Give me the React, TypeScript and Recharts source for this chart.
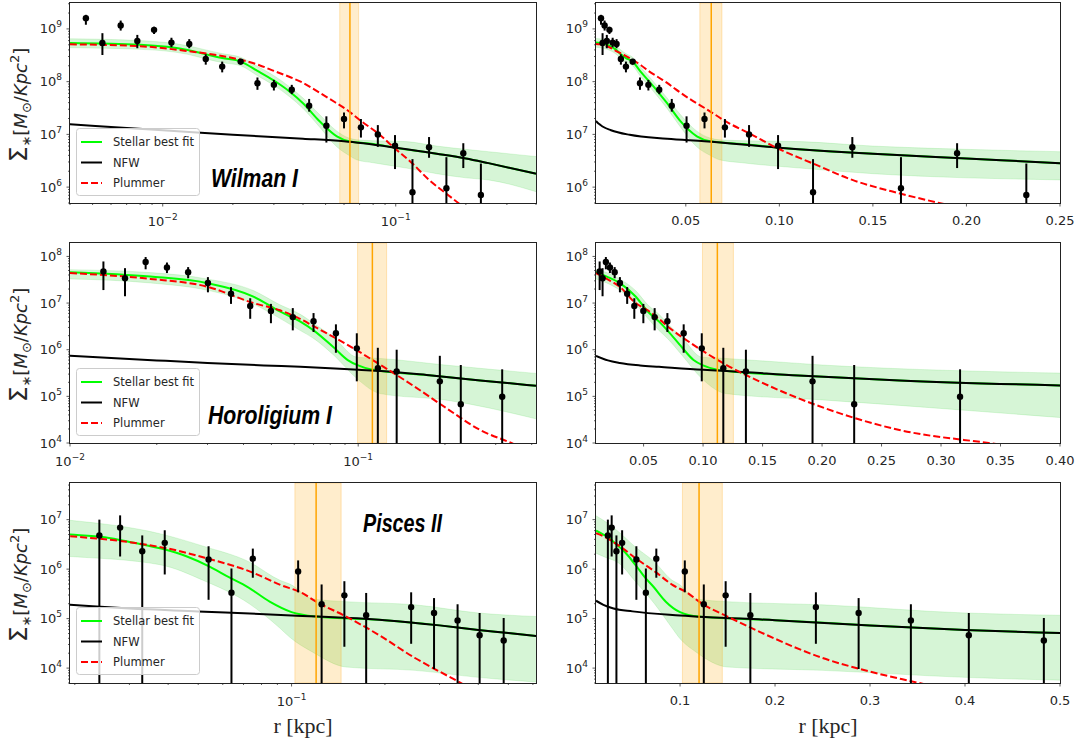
import React from 'react'
import {
  Area,
  ComposedChart,
  ErrorBar,
  Line,
  ReferenceArea,
  ReferenceLine,
  Scatter,
  XAxis,
  YAxis,
} from 'recharts'

// ---------- Wilman I ----------
// [r (kpc), value, error low end, error high end]; low end 0 = runs off the axis
const wilmanPoints = [
  [0.00468, 1.6e9, 1.2e9, 1.85e9],
  [0.00551, 5.4e8, 3.2e8, 8.3e8],
  [0.0066, 1.16e9, 9.3e8, 1.44e9],
  [0.00778, 5.9e8, 4.3e8, 7.7e8],
  [0.00918, 9.6e8, 8.0e8, 1.1e9],
  [0.0109, 5.5e8, 4.5e8, 6.8e8],
  [0.013, 5.2e8, 4.3e8, 6.4e8],
  [0.0153, 2.7e8, 2.1e8, 3.3e8],
  [0.018, 1.93e8, 1.5e8, 2.4e8],
  [0.0216, 2.4e8, 2.1e8, 2.7e8],
  [0.0255, 9.3e7, 7.0e7, 1.2e8],
  [0.03, 8.7e7, 6.8e7, 1.08e8],
  [0.0358, 7.0e7, 5.8e7, 8.7e7],
  [0.0425, 3.5e7, 2.7e7, 4.7e7],
  [0.0504, 1.46e7, 7.0e6, 2.2e7],
  [0.06, 1.96e7, 1.3e7, 2.6e7],
  [0.0709, 1.36e7, 8.7e6, 1.96e7],
  [0.0838, 1.0e7, 5.8e6, 1.5e7],
  [0.0993, 6.1e6, 2.2e6, 9.7e6],
  [0.118, 8.0e5, 0, 3.4e6],
  [0.139, 5.7e6, 3.6e6, 8.9e6],
  [0.165, 9.5e5, 0, 3.7e6],
  [0.195, 4.4e6, 2.3e6, 6.8e6],
  [0.232, 7.1e5, 0, 2.8e6],
]
const wilmanStellar = [
  [0.002, 5.5e8], [0.004, 5.4e8], [0.008, 5.0e8], [0.0128, 4.0e8], [0.0153, 3.3e8],
  [0.018, 2.8e8], [0.0216, 2.4e8], [0.0255, 1.6e8], [0.03, 1.05e8], [0.035, 6.5e7],
  [0.04, 3.9e7], [0.047, 1.8e7], [0.0559, 9.2e6], [0.063, 7.4e6], [0.08, 6.6e6],
  [0.1, 5.6e6], [0.15, 4.3e6], [0.2, 3.5e6], [0.25, 2.85e6], [0.4, 1.8e6],
]
const wilmanBand = [
  [0.002, 4.5e8, 6.6e8], [0.004, 4.4e8, 6.5e8], [0.008, 4.1e8, 6.0e8], [0.0128, 3.3e8, 4.8e8],
  [0.0153, 2.7e8, 4.0e8], [0.018, 2.3e8, 3.4e8], [0.0216, 2.0e8, 2.9e8], [0.0255, 1.3e8, 1.95e8],
  [0.03, 8.5e7, 1.3e8], [0.035, 5.2e7, 8.0e7], [0.04, 3.1e7, 4.9e7], [0.047, 1.4e7, 2.4e7],
  [0.0559, 5.8e6, 1.15e7], [0.063, 4.0e6, 8.5e6], [0.068, 3.3e6, 7.9e6], [0.08, 2.9e6, 7.6e6],
  [0.111, 2.3e6, 7.3e6], [0.15, 1.8e6, 6.0e6], [0.2, 1.5e6, 5.2e6], [0.25, 1.37e6, 4.7e6],
  [0.4, 8.2e5, 3.8e6],
]
const wilmanNfw = [
  [0.002, 1.8e7], [0.003, 1.65e7], [0.004, 1.55e7], [0.006, 1.38e7], [0.01, 1.2e7],
  [0.02, 9.8e6], [0.04, 8.3e6], [0.06, 7.4e6], [0.1, 5.6e6], [0.15, 4.3e6],
  [0.2, 3.5e6], [0.25, 2.85e6], [0.4, 1.8e6],
]
const wilmanPlummer = [
  [0.002, 5.2e8], [0.004, 5.1e8], [0.008, 4.7e8], [0.0128, 3.8e8], [0.017, 3.2e8],
  [0.0216, 2.6e8], [0.026, 2.05e8], [0.03, 1.6e8], [0.0355, 1.2e8], [0.04, 9.5e7],
  [0.0445, 7.2e7], [0.0525, 4.6e7], [0.0625, 2.8e7], [0.0709, 1.8e7], [0.0838, 1.05e7],
  [0.0993, 5.4e6], [0.118, 2.8e6], [0.139, 1.37e6], [0.165, 7.5e5], [0.195, 4.2e5],
  [0.25, 1.6e5], [0.4, 2.5e4],
]
const wilmanRh = [0.0575, 0.0636, 0.0693]

// ---------- Horoligium I ----------
const horoPoints = [
  [0.01306, 4.75e7, 1.9e7, 7.8e7],
  [0.01552, 3.4e7, 1.4e7, 5.6e7],
  [0.0183, 7.6e7, 5.3e7, 9.7e7],
  [0.0217, 5.8e7, 4.4e7, 7.4e7],
  [0.0257, 4.6e7, 3.4e7, 5.9e7],
  [0.0301, 2.7e7, 1.7e7, 3.6e7],
  [0.0362, 1.58e7, 9.6e6, 2.2e7],
  [0.0422, 8.7e6, 4.6e6, 1.27e7],
  [0.0498, 6.8e6, 3.7e6, 9.6e6],
  [0.0593, 5.0e6, 2.6e6, 7.8e6],
  [0.07, 4.1e6, 2.4e6, 6.1e6],
  [0.0837, 2.25e6, 8.6e5, 3.5e6],
  [0.0989, 1.07e6, 2.1e5, 2.25e6],
  [0.117, 4.0e5, 0, 1.1e6],
  [0.136, 3.4e5, 0, 1.0e6],
  [0.192, 2.1e5, 0, 7.4e5],
  [0.227, 6.8e4, 0, 4.7e5],
  [0.316, 9.8e4, 0, 3.8e5],
]
const horoStellar = [
  [0.01, 4.6e7], [0.019, 3.7e7], [0.0298, 2.7e7], [0.0433, 1.38e7], [0.0535, 6.6e6],
  [0.063, 4.0e6], [0.07, 2.6e6], [0.0825, 1.1e6], [0.092, 6.0e5], [0.1, 4.6e5],
  [0.11, 3.8e5], [0.12, 3.5e5], [0.18, 2.8e5], [0.265, 2.2e5], [0.414, 1.68e5],
]
const horoBand = [
  [0.01, 3.3e7, 5.2e7], [0.019, 2.7e7, 4.5e7], [0.0298, 1.9e7, 3.3e7], [0.0433, 9.5e6, 1.85e7],
  [0.0535, 4.7e6, 9.2e6], [0.0628, 2.6e6, 5.8e6], [0.07, 1.75e6, 3.7e6], [0.0825, 7.5e5, 1.8e6],
  [0.099, 2.4e5, 6.9e5], [0.119, 1.15e5, 6.5e5], [0.2, 8.4e4, 4.7e5], [0.414, 3.3e4, 3.1e5],
]
const horoNfw = [
  [0.01, 7.4e5], [0.02, 5.9e5], [0.03, 5.2e5], [0.047, 4.6e5], [0.063, 4.3e5],
  [0.1, 3.7e5], [0.12, 3.5e5], [0.18, 2.8e5], [0.265, 2.2e5], [0.414, 1.68e5],
]
const horoPlummer = [
  [0.01, 4.4e7], [0.019, 3.3e7], [0.0298, 2.26e7], [0.0433, 1.0e7], [0.0535, 7.0e6],
  [0.0628, 4.6e6], [0.07, 3.2e6], [0.0913, 1.3e6], [0.119, 4.8e5], [0.155, 1.7e5],
  [0.203, 5.5e4], [0.265, 1.9e4], [0.34, 1.0e4], [0.42, 5.5e3],
]
const horoRh = [0.0995, 0.112, 0.1255]

// ---------- Pisces II ----------
const piscesPoints = [
  [0.024, 4.8e6, 0, 1.0e7],
  [0.028, 6.9e6, 1.8e6, 1.22e7],
  [0.033, 2.3e6, 0, 4.8e6],
  [0.039, 3.4e6, 7.8e5, 6.1e6],
  [0.054, 1.56e6, 2.4e5, 2.9e6],
  [0.064, 3.35e5, 0, 1.03e6],
  [0.075, 1.63e6, 6.7e5, 2.6e6],
  [0.105, 9.0e5, 3.4e5, 1.5e6],
  [0.125, 1.95e5, 0, 4.9e5],
  [0.148, 2.95e5, 2.7e4, 5.7e5],
  [0.174, 1.17e5, 0, 3.3e5],
  [0.243, 1.71e5, 3.1e4, 3.4e5],
  [0.288, 1.3e5, 9.6e3, 2.6e5],
  [0.343, 9.2e4, 0, 1.95e5],
  [0.404, 4.6e4, 0, 1.3e5],
  [0.483, 3.6e4, 0, 1.03e5],
]
const piscesStellar = [
  [0.0115, 6.0e6], [0.0193, 5.0e6], [0.025, 4.4e6], [0.031, 3.4e6], [0.038, 2.6e6],
  [0.046, 1.8e6], [0.054, 1.15e6], [0.063, 6.8e5], [0.072, 4.4e5], [0.085, 2.2e5],
  [0.1, 1.35e5], [0.12, 1.1e5], [0.2, 9.3e4], [0.3, 7.3e4], [0.4, 5.9e4],
  [0.5, 5.1e4], [0.62, 4.4e4],
]
const piscesBand = [
  [0.0115, 2.1e6, 1.2e7], [0.0193, 1.8e6, 9.7e6], [0.0376, 1.23e6, 5.2e6], [0.052, 5.9e5, 2.9e6],
  [0.073, 2.0e5, 1.4e6], [0.092, 6.3e4, 5.9e5], [0.0987, 4.2e4, 5.0e5], [0.117, 2.1e4, 2.5e5],
  [0.15, 1.05e4, 2.2e5], [0.25, 9.0e3, 1.9e5], [0.4, 6.5e3, 1.3e5], [0.62, 5.2e3, 1.1e5],
]
const piscesNfw = [
  [0.0115, 2.3e5], [0.0193, 1.9e5], [0.03, 1.6e5], [0.05, 1.4e5], [0.1, 1.16e5],
  [0.2, 9.3e4], [0.3, 7.3e4], [0.4, 5.9e4], [0.5, 5.1e4], [0.62, 4.4e4],
]
const piscesPlummer = [
  [0.0115, 5.3e6], [0.0193, 4.6e6], [0.03, 3.5e6], [0.04, 2.6e6], [0.0525, 1.7e6],
  [0.075, 8.5e5], [0.092, 4.8e5], [0.108, 3.3e5], [0.12, 2.2e5], [0.15, 1.1e5],
  [0.193, 4.5e4], [0.25, 1.6e4], [0.3, 8.5e3], [0.342, 5.5e3], [0.45, 2.0e3],
]
const piscesRh = [0.1025, 0.12, 0.1445]

// tick labels of the linear panels
const wilmanLinTicks = [0.05, 0.1, 0.15, 0.2, 0.25]
const horoLinTicks = [0.05, 0.1, 0.15, 0.2, 0.25, 0.3, 0.35, 0.4]
const piscesLinTicks = [0.1, 0.2, 0.3, 0.4, 0.5]

const legendLabels = ['Stellar best fit', 'NFW', 'Plummer']

const curve = (rows: number[][]) => rows.map(([r, v]) => ({ r, v }))
const band = (rows: number[][]) => rows.map(([r, lo, hi]) => ({ r, band: [lo, hi] }))
const pts = (rows: number[][], floor: number) =>
  rows.map(([r, v, lo, hi]) => ({ r, v, err: [v - Math.max(lo, floor), hi - v] }))

const logTicks = (lo: number, hi: number) => {
  const out: number[] = []
  for (let e = Math.floor(Math.log10(lo)); e <= Math.ceil(Math.log10(hi)); e++) {
    for (let m = 1; m < 10; m++) {
      const v = m * Math.pow(10, e)
      if (v >= lo * 0.999 && v <= hi * 1.001) out.push(v)
    }
  }
  return out
}

const FONT = "'DejaVu Sans', sans-serif"
const TICK = '#333'
const isDecade = (v: number) => Math.abs(Math.log10(v) - Math.round(Math.log10(v))) < 1e-6
const expOf = (v: number) => {
  const e = Math.round(Math.log10(v))
  return e < 0 ? '\u2212' + -e : String(e)
}

const logYTick = (p: any) => {
  const { x, y, payload } = p
  const major = isDecade(payload.value)
  return (
    <g>
      <line x1={x} x2={x - (major ? 3.5 : 2)} y1={y} y2={y} stroke={TICK} strokeWidth={0.8} />
      {major && (
        <text x={x - 8} y={y + 4.5} textAnchor="end" fontSize={13} fill="#262626" fontFamily={FONT}>
          10<tspan dy={-6} fontSize={9}>{expOf(payload.value)}</tspan>
        </text>
      )}
    </g>
  )
}

const logXTick = (p: any) => {
  const { x, y, payload } = p
  const major = isDecade(payload.value)
  return (
    <g>
      <line x1={x} x2={x} y1={y} y2={y + (major ? 3.5 : 2)} stroke={TICK} strokeWidth={0.8} />
      {major && (
        <text x={x} y={y + 23} textAnchor="middle" fontSize={13} fill="#262626" fontFamily={FONT}>
          10<tspan dy={-6} fontSize={9}>{expOf(payload.value)}</tspan>
        </text>
      )}
    </g>
  )
}

const linXTick = (dec: number) => (p: any) => {
  const { x, y, payload } = p
  return (
    <g>
      <line x1={x} x2={x} y1={y} y2={y + 3.5} stroke={TICK} strokeWidth={0.8} />
      <text x={x} y={y + 22} textAnchor="middle" fontSize={13} fill="#262626" fontFamily={FONT}>
        {payload.value.toFixed(dec)}
      </text>
    </g>
  )
}

const dot = (p: any) => <circle cx={p.cx} cy={p.cy} r={3.2} fill="#000" />

type Galaxy = {
  points: number[][]
  stellar: number[][]
  band: number[][]
  nfw: number[][]
  plummer: number[][]
  rh: number[]
}

const YW = 60
const MT = 5
const MR = 25
const XH = 35

function Panel(props: {
  g: Galaxy
  left: number
  top: number
  width: number
  height: number
  log: boolean
  xDomain: number[]
  xTicks: number[]
  dec: number
  yDomain: number[]
}) {
  const { g, left, top, width, height, log, xDomain, xTicks, dec, yDomain } = props
  return (
    <div style={{ position: 'absolute', left: left - YW, top: top - MT }}>
      <ComposedChart
        width={YW + width + MR}
        height={MT + height + XH}
        margin={{ top: MT, right: MR, bottom: 0, left: 0 }}
      >
        <XAxis
          type="number"
          dataKey="r"
          scale={log ? 'log' : 'linear'}
          domain={xDomain}
          allowDataOverflow
          ticks={xTicks}
          interval={0}
          tickSize={0}
          tickMargin={0}
          tickLine={false}
          axisLine={false}
          height={XH}
          tick={log ? logXTick : linXTick(dec)}
        />
        <YAxis
          type="number"
          scale="log"
          domain={yDomain}
          allowDataOverflow
          ticks={logTicks(yDomain[0], yDomain[1])}
          interval={0}
          tickSize={0}
          tickMargin={0}
          tickLine={false}
          axisLine={false}
          width={YW}
          tick={logYTick}
        />
        <Area
          data={band(g.band)}
          dataKey="band"
          type="monotone"
          stroke="#32cd32"
          strokeOpacity={0.15}
          fill="#32cd32"
          fillOpacity={0.2}
          isAnimationActive={false}
        />
        <Line data={curve(g.stellar)} dataKey="v" type="monotone" stroke="#00ff00" strokeWidth={2} dot={false} isAnimationActive={false} />
        <Line data={curve(g.nfw)} dataKey="v" type="monotone" stroke="#000" strokeWidth={2} dot={false} isAnimationActive={false} />
        <Line data={curve(g.plummer)} dataKey="v" type="monotone" stroke="#ff0000" strokeWidth={2} strokeDasharray="7 3" dot={false} isAnimationActive={false} />
        <ReferenceArea x1={g.rh[0]} x2={g.rh[2]} fill="#ffa500" fillOpacity={0.2} stroke="#ffa500" strokeOpacity={0.25} />
        <ReferenceLine x={g.rh[1]} stroke="#ffa500" strokeWidth={1.5} />
        <Scatter data={pts(g.points, yDomain[0])} dataKey="v" shape={dot} isAnimationActive={false}>
          <ErrorBar dataKey="err" direction="y" width={0} stroke="#000" strokeWidth={2} isAnimationActive={false} />
        </Scatter>
      </ComposedChart>
    </div>
  )
}

const wilman: Galaxy = { points: wilmanPoints, stellar: wilmanStellar, band: wilmanBand, nfw: wilmanNfw, plummer: wilmanPlummer, rh: wilmanRh }
const horo: Galaxy = { points: horoPoints, stellar: horoStellar, band: horoBand, nfw: horoNfw, plummer: horoPlummer, rh: horoRh }
const pisces: Galaxy = { points: piscesPoints, stellar: piscesStellar, band: piscesBand, nfw: piscesNfw, plummer: piscesPlummer, rh: piscesRh }

const LX = 70
const LW = 466
const RX = 596
const RW = 464
const PH = 200

const rows = [
  { g: wilman, top: 3, y: [5e5, 3.1e9], lx: [0.004, 0.4], rx: [0.002, 0.25], rt: wilmanLinTicks, dec: 2, legendTop: 128, name: 'Wilman I', nx: 211, ny: 187, nw: 87 },
  { g: horo, top: 243, y: [1e4, 1.94e8], lx: [0.01, 0.414], rx: [0.01, 0.4], rt: horoLinTicks, dec: 2, legendTop: 368, name: 'Horoligium I', nx: 208, ny: 424, nw: 124 },
  { g: pisces, top: 483, y: [5e3, 5.5e7], lx: [0.0193, 0.614], rx: [0.0115, 0.5], rt: piscesLinTicks, dec: 1, legendTop: 607, name: 'Pisces II', nx: 363, ny: 532, nw: 79 },
]

function Legend({ top }: { top: number }) {
  const ys = [top + 14, top + 34.5, top + 55]
  const styles = [
    { stroke: '#00ff00' },
    { stroke: '#000' },
    { stroke: '#ff0000', strokeDasharray: '7 3' },
  ]
  return (
    <g>
      <rect x={76.5} y={top + 0.5} width={123} height={67} rx={3} fill="#fff" fillOpacity={0.8} stroke="#cccccc" />
      {legendLabels.map((t, i) => (
        <g key={t}>
          <line x1={81} x2={102} y1={ys[i]} y2={ys[i]} strokeWidth={2} {...styles[i]} />
          <text x={113} y={ys[i] + 4} fontSize={11.5} fill="#262626" fontFamily={FONT}>{t}</text>
        </g>
      ))}
    </g>
  )
}

function YLabel({ cy }: { cy: number }) {
  return (
    <text transform={`translate(27, ${cy}) rotate(-90)`} textAnchor="middle" fontSize={18} fill="#262626" fontFamily={FONT}>
      <tspan fontSize={25}>Σ</tspan>
      <tspan fontSize={13} dy={4}>∗</tspan>
      <tspan dy={-4}>[</tspan>
      <tspan fontStyle="italic">M</tspan>
      <tspan fontSize={13} dy={4}>⊙</tspan>
      <tspan dy={-4}>/</tspan>
      <tspan fontStyle="italic">Kpc</tspan>
      <tspan fontSize={13} dy={-8}>2</tspan>
      <tspan dy={8}>]</tspan>
    </text>
  )
}

export default function App() {
  return (
    <div style={{ position: 'absolute', left: 0, top: 0, width: 1083, height: 747, background: '#fff', overflow: 'hidden' }}>
      {rows.map((row) => (
        <React.Fragment key={row.name}>
          <Panel g={row.g} left={LX} top={row.top} width={LW} height={PH} log xDomain={row.lx} xTicks={logTicks(row.lx[0], row.lx[1])} dec={0} yDomain={row.y} />
          <Panel g={row.g} left={RX} top={row.top} width={RW} height={PH} log={false} xDomain={row.rx} xTicks={row.rt} dec={row.dec} yDomain={row.y} />
        </React.Fragment>
      ))}
      <svg width={1083} height={747} style={{ position: 'absolute', left: 0, top: 0, pointerEvents: 'none' }}>
        {rows.map((row) => (
          <g key={row.name}>
            <rect x={LX - 0.5} y={row.top - 0.5} width={LW + 1} height={PH + 1} fill="none" stroke="#222" strokeWidth={1} />
            <rect x={RX - 0.5} y={row.top - 0.5} width={RW + 1} height={PH + 1} fill="none" stroke="#222" strokeWidth={1} />
            <Legend top={row.legendTop} />
            <text
              x={row.nx}
              y={row.ny}
              fontSize={25}
              fontWeight={700}
              fontStyle="italic"
              fontFamily="'Liberation Sans', 'DejaVu Sans', sans-serif"
              textLength={row.nw}
              lengthAdjust="spacingAndGlyphs"
              fill="#000"
            >
              {row.name}
            </text>
            <YLabel cy={row.top + PH / 2 + 2} />
          </g>
        ))}
        <text x={303} y={733} textAnchor="middle" fontSize={22} fontFamily="'Liberation Serif', serif" fill="#262626">r [kpc]</text>
        <text x={828} y={733} textAnchor="middle" fontSize={22} fontFamily="'Liberation Serif', serif" fill="#262626">r [kpc]</text>
      </svg>
    </div>
  )
}
